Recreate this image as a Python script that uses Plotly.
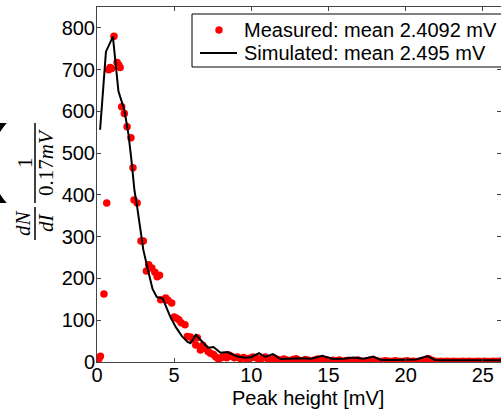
import plotly.graph_objects as go

# Measured histogram (bin centres in mV, counts)
meas_x = [0.03, 0.12, 0.22, 0.45, 0.63, 0.75, 0.85, 0.95, 1.1, 1.3, 1.4, 1.5, 1.6, 1.77, 1.95,
          2.2, 2.33, 2.4, 2.6, 2.85, 3.0, 3.2, 3.35, 3.55, 3.75, 3.9, 4.05, 4.13, 4.45, 4.6,
          4.84, 5.0, 5.15, 5.3, 5.45, 5.7, 5.85, 6.05, 6.2, 6.4, 6.5, 6.7, 6.85, 7.0, 7.2,
          7.35, 7.55, 7.7, 7.87, 8.05, 8.2, 8.4, 8.55,
          8.7, 8.9, 9.1, 9.3, 9.5, 9.7, 9.9, 10.1,
          10.3, 10.5, 10.7, 10.9, 11.1, 11.3, 11.5, 11.7,
          11.9, 12.1, 12.3, 12.5, 12.7, 12.9, 13.1, 13.3,
          13.5, 13.7, 13.9, 14.1, 14.3, 14.5, 14.7, 14.9,
          15.1, 15.3, 15.5, 15.7, 15.9, 16.1, 16.3, 16.5,
          16.7, 16.9, 17.1, 17.3, 17.5, 17.7, 17.9, 18.1,
          18.3, 18.5, 18.7, 18.9, 19.1, 19.3, 19.5, 19.7,
          19.9, 20.1, 20.3, 20.5, 20.7, 20.9, 21.1, 21.3,
          21.5, 21.7, 21.9, 22.1, 22.3, 22.5, 22.7, 22.9,
          23.1, 23.3, 23.5, 23.7, 23.9, 24.1, 24.3, 24.5,
          24.7, 24.9, 25.1, 25.3, 25.5, 25.7, 25.9, 26.1]
meas_y = [2, 8, 14, 163, 381, 700, 705, 703, 780, 717, 712, 705, 611, 595, 563,
          537, 465, 388, 381, 290, 290, 218, 233, 225, 215, 204, 208, 149, 153, 148,
          141, 108, 105, 101, 94, 89, 61, 60, 55, 41, 58, 29, 40, 33, 25,
          21, 18, 12, 7, 10, 13, 10, 17,
          14, 10, 12, 8, 11, 7, 9, 12,
          10, 6, 9, 12, 7, 5, 9, 6,
          4, 7, 5, 3, 6, 8, 4, 3,
          6, 4, 2, 5, 7, 4, 3, 5,
          2, 4, 3, 5, 2, 3, 4, 2,
          3, 5, 2, 1, 3, 4, 2, 3,
          1, 2, 3, 2, 1, 3, 2, 1,
          2, 3, 1, 2, 1, 2, 3, 2,
          8, 4, 2, 1, 2, 1, 2, 1,
          2, 1, 1, 2, 1, 2, 1, 1,
          2, 1, 2, 1, 1, 2, 1, 2]

# Simulated histogram
sim_x = [0.2, 0.58, 1.03, 1.39, 1.77, 2.04, 2.23, 2.43, 2.6, 3.0, 3.35, 3.6, 3.87, 4.26, 4.75,
         5.1, 5.5, 5.87, 6.06, 6.4, 6.84, 7.2, 7.55, 8.0, 8.45, 9.1, 9.6, 10.0, 10.5, 10.9,
         11.4, 11.9, 12.5, 13.2, 13.9, 14.6, 15.3, 16.0, 16.6, 17.3, 17.9, 18.4, 19.2, 20.0,
         20.7, 21.4, 21.9, 22.6, 23.5, 24.5, 25.5, 26.2]
sim_y = [556, 743, 779, 648, 604, 545, 484, 410, 372, 269, 213, 175, 156, 152, 108,
         84, 62, 48, 45, 65, 48, 34, 36, 22, 24, 13, 10, 12, 21, 12,
         19, 7, 8, 9, 8, 15, 7, 8, 11, 8, 13, 5, 5, 5,
         6, 14, 5, 4, 4, 4, 4, 4]

x_ticks = [0, 5, 10, 15, 20, 25]
y_ticks = [0, 100, 200, 300, 400, 500, 600, 700, 800]

meas_name = "Measured: mean 2.4092 mV"
sim_name = "Simulated: mean 2.495 mV"

FONT = "Liberation Sans, Arial, Helvetica, sans-serif"
SERIF = "Liberation Serif, DejaVu Serif, serif"

W, H = 501, 410
L, R, T, B = 97, 0, 7, 48
pw, ph = W - L - R, H - T - B


def px(xp):
    return (xp - L) / pw


def py(yp):
    return (H - B - yp) / ph


fig = go.Figure()
fig.add_trace(go.Scatter(x=meas_x, y=meas_y, mode="markers",
                         marker=dict(color="#ff0000", size=7.5), name=meas_name))
fig.add_trace(go.Scatter(x=sim_x, y=sim_y, mode="lines",
                         line=dict(color="black", width=2), name=sim_name))

axis_common = dict(showgrid=False, zeroline=False, showline=True, linecolor="#444",
                   linewidth=1, mirror="ticks", ticks="inside", ticklen=4,
                   tickcolor="#444", tickfont=dict(family=FONT, size=20, color="black"))

fig.update_xaxes(range=[0, 26.18], tickvals=x_ticks, ticklabelstandoff=-5, **axis_common)
fig.update_yaxes(range=[0, 850], tickvals=y_ticks, ticklabelstandoff=-3, **axis_common)

label_font = dict(family=SERIF, size=21, color="black")
annotations = [
    dict(text="Peak height [mV]", xref="paper", yref="paper", x=px(308), y=py(398),
         showarrow=False, font=dict(family=FONT, size=20, color="black"),
         xanchor="center", yanchor="middle"),
    # y-axis label: (dN/dI) (1/0.17mV) as two stacked fractions
    dict(text="<i>dN</i>", xref="paper", yref="paper", x=px(23), y=py(223), textangle=-90,
         xanchor="center", yanchor="middle", showarrow=False, font=label_font),
    dict(text="<i>dI</i>", xref="paper", yref="paper", x=px(46), y=py(223), textangle=-90,
         xanchor="center", yanchor="middle", showarrow=False, font=label_font),
    dict(text="1", xref="paper", yref="paper", x=px(25), y=py(163), textangle=-90,
         xanchor="center", yanchor="middle", showarrow=False, font=label_font),
    dict(text="0.17<i>mV</i>", xref="paper", yref="paper", x=px(46), y=py(163), textangle=-90,
         xanchor="center", yanchor="middle", showarrow=False, font=label_font),
    dict(text="(", xref="paper", yref="paper", x=px(9), y=py(155), xanchor="right",
         yanchor="middle", showarrow=False,
         font=dict(family=FONT, size=85, color="black")),
    # legend texts
    dict(text=meas_name, xref="paper", yref="paper", x=px(242), y=py(30), xanchor="left",
         yanchor="middle", showarrow=False, font=dict(family=FONT, size=20, color="black")),
    dict(text=sim_name, xref="paper", yref="paper", x=px(242), y=py(53), xanchor="left",
         yanchor="middle", showarrow=False, font=dict(family=FONT, size=20, color="black")),
]

shapes = [
    dict(type="line", xref="paper", yref="paper", x0=px(35), x1=px(35), y0=py(123), y1=py(203),
         line=dict(color="black", width=1.5)),
    dict(type="line", xref="paper", yref="paper", x0=px(35), x1=px(35), y0=py(207), y1=py(240),
         line=dict(color="black", width=1.5)),
    # legend box and symbols
    dict(type="rect", xref="paper", yref="paper", x0=px(192), x1=px(505), y0=py(14), y1=py(67),
         line=dict(color="black", width=1), fillcolor="white", layer="above"),
    dict(type="circle", xref="paper", yref="paper", x0=px(215.5), x1=px(222.5),
         y0=py(26.5), y1=py(33.5), line=dict(color="#ff0000", width=0.5), fillcolor="#ff0000"),
    dict(type="line", xref="paper", yref="paper", x0=px(200), x1=px(237), y0=py(53), y1=py(53),
         line=dict(color="black", width=2)),
]

fig.update_layout(
    width=W, height=H,
    margin=dict(l=L, r=R, t=T, b=B, pad=0),
    paper_bgcolor="white", plot_bgcolor="white",
    font=dict(family=FONT, size=20, color="black"),
    showlegend=False,
    annotations=annotations,
    shapes=shapes,
)

fig.write_html("out.html")
